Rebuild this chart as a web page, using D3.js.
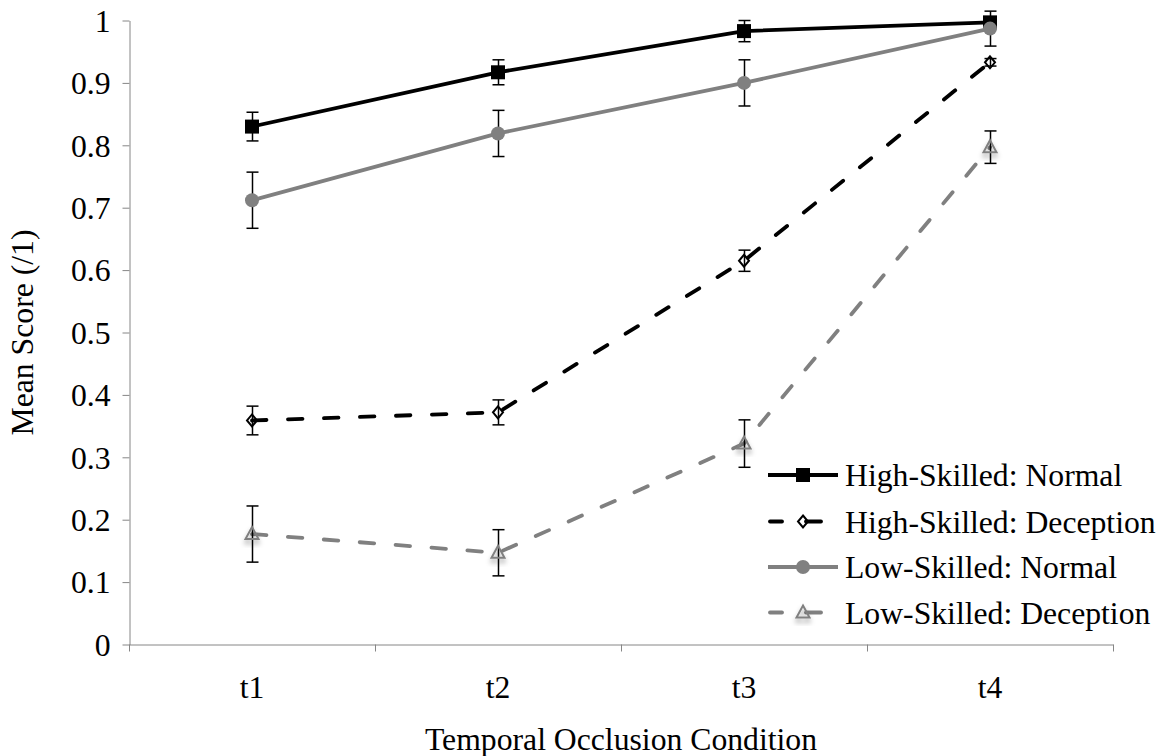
<!DOCTYPE html>
<html>
<head>
<meta charset="utf-8">
<script src="https://cdn.jsdelivr.net/npm/d3@7"></script>
<style>
  html, body { margin: 0; padding: 0; background: #fff; }
  svg { display: block; }
  text { font-family: "Liberation Serif", "Times New Roman", serif; fill: #000; }
</style>
</head>
<body>
<svg id="chart" width="1172" height="756"></svg>
<script>
// Categories (temporal occlusion conditions)
const categories = ["t1", "t2", "t3", "t4"];

// Mean scores and error bar half-widths per group
const hsNormal = [0.830, 0.917, 0.983, 0.997];
const hsNormalErr = [0.023, 0.020, 0.017, 0.003];
const hsDeception = [0.359, 0.372, 0.615, 0.933];
const hsDeceptionErr = [0.023, 0.020, 0.017, 0.006];
const lsNormal = [0.712, 0.819, 0.900, 0.987];
const lsNormalErr = [0.045, 0.037, 0.037, 0.028];
const lsDeception = [0.177, 0.147, 0.322, 0.797];
const lsDeceptionErr = [0.045, 0.037, 0.038, 0.026];

const seriesNames = ["High-Skilled: Normal", "High-Skilled: Deception", "Low-Skilled: Normal", "Low-Skilled: Deception"];
const yTickValues = [0, 0.1, 0.2, 0.3, 0.4, 0.5, 0.6, 0.7, 0.8, 0.9, 1];
const yTickLabels = ["0", "0.1", "0.2", "0.3", "0.4", "0.5", "0.6", "0.7", "0.8", "0.9", "1"];

const BLACK = "#000000";
const GREY = "#808080";
const AXIS = "#868686";
const DASH = "14.5,21.5";

const series = [
  { name: seriesNames[0], values: hsNormal, errs: hsNormalErr, color: BLACK, dash: null, marker: "square" },
  { name: seriesNames[1], values: hsDeception, errs: hsDeceptionErr, color: BLACK, dash: DASH, marker: "diamond" },
  { name: seriesNames[2], values: lsNormal, errs: lsNormalErr, color: GREY, dash: null, marker: "circle" },
  { name: seriesNames[3], values: lsDeception, errs: lsDeceptionErr, color: GREY, dash: DASH, marker: "triangle" }
];

const plot = { left: 129, right: 1113, top: 20.5, bottom: 644.5 };
const FONT = 31.7;
const SERIF = "'Liberation Serif', 'Times New Roman', serif";

const svg = d3.select("#chart");

const defs = svg.append("defs");
const shadow = defs.append("filter").attr("id", "markerShadow")
  .attr("x", "-50%").attr("y", "-50%").attr("width", "200%").attr("height", "220%");
shadow.append("feDropShadow").attr("dx", 0).attr("dy", 4).attr("stdDeviation", 2.5)
  .attr("flood-color", "#000").attr("flood-opacity", 0.35);

const x = d3.scaleBand().domain(categories).range([plot.left, plot.right]).padding(0);
const xEdges = d3.scaleLinear().domain([0, categories.length]).range([plot.left, plot.right]);
const y = d3.scaleLinear().domain([0, 1]).range([plot.bottom, plot.top]);
const cx = c => x(c) + x.bandwidth() / 2;

// Y axis
const yAxis = svg.append("g")
  .attr("transform", `translate(${plot.left + 0.5},0)`)
  .call(d3.axisLeft(y).tickValues(yTickValues).tickSize(7).tickSizeOuter(0)
    .tickFormat((d, i) => yTickLabels[i]));
yAxis.attr("font-family", SERIF).attr("font-size", FONT);
yAxis.select(".domain").attr("stroke", AXIS).attr("stroke-width", 1);
yAxis.selectAll(".tick line").attr("stroke", AXIS);
yAxis.selectAll(".tick text")
  .attr("x", -19)
  .attr("dy", "0.34em")
  .style("font-size", FONT + "px")
  .style("font-family", SERIF)
  .attr("fill", "#000");

// X axis: ticks at category boundaries, labels at category centres
const xAxis = svg.append("g")
  .attr("transform", `translate(0,${plot.bottom})`)
  .call(d3.axisBottom(xEdges).tickValues(d3.range(categories.length + 1)).tickSize(7)
    .tickSizeOuter(0).tickFormat(""));
xAxis.select(".domain").attr("stroke", AXIS).attr("stroke-width", 1);
xAxis.selectAll(".tick line").attr("stroke", AXIS);
xAxis.selectAll(".tick").attr("transform", d => `translate(${Math.round(xEdges(d)) + 0.5},0)`);

svg.append("g").selectAll("text").data(categories).join("text")
  .attr("x", d => cx(d))
  .attr("y", 698)
  .attr("text-anchor", "middle")
  .style("font-size", FONT + "px")
  .style("font-family", SERIF)
  .text(d => d);

// Axis titles
svg.append("text")
  .attr("x", (plot.left + plot.right) / 2)
  .attr("y", 750)
  .attr("text-anchor", "middle")
  .style("font-size", FONT + "px")
  .style("font-family", SERIF)
  .text("Temporal Occlusion Condition");

svg.append("text")
  .attr("transform", `translate(33,${(plot.top + plot.bottom) / 2}) rotate(-90)`)
  .attr("text-anchor", "middle")
  .style("font-size", FONT + "px")
  .style("font-family", SERIF)
  .text("Mean Score (/1)");

// Marker shapes
function drawMarker(g, type, px, py, color) {
  if (type === "square") {
    g.append("rect").attr("x", px - 7).attr("y", py - 7).attr("width", 14).attr("height", 14)
      .attr("fill", color);
  } else if (type === "circle") {
    g.append("circle").attr("cx", px).attr("cy", py).attr("r", 7).attr("fill", color);
  } else if (type === "diamond") {
    g.append("path")
      .attr("d", `M${px},${py - 6} L${px + 5},${py} L${px},${py + 6} L${px - 5},${py} Z`)
      .attr("fill", "none").attr("stroke", color).attr("stroke-width", 2);
  } else if (type === "triangle") {
    g.append("path")
      .attr("d", `M${px},${py - 7} L${px + 6.5},${py + 5} L${px - 6.5},${py + 5} Z`)
      .attr("fill", "none").attr("stroke", color).attr("stroke-width", 2)
      .attr("filter", "url(#markerShadow)");
  }
}

const line = d3.line().x(d => cx(d.c)).y(d => y(d.v));

series.forEach(s => {
  const g = svg.append("g");
  const pts = categories.map((c, i) => ({ c, v: s.values[i], e: s.errs[i] }));

  g.append("path").datum(pts)
    .attr("d", line)
    .attr("fill", "none")
    .attr("stroke", s.color)
    .attr("stroke-width", 3.8)
    .attr("stroke-linecap", s.dash ? "round" : "butt")
    .attr("stroke-linejoin", "round")
    .attr("stroke-dasharray", s.dash);

  // error bars
  const eb = g.append("g").attr("stroke", BLACK).attr("stroke-width", 1.5);
  pts.forEach(p => {
    const px = Math.round(cx(p.c)) + 0.5;
    const y0 = y(p.v - p.e), y1 = y(p.v + p.e);
    eb.append("line").attr("x1", px).attr("x2", px).attr("y1", y0).attr("y2", y1);
    eb.append("line").attr("x1", px - 6).attr("x2", px + 6).attr("y1", y0).attr("y2", y0);
    eb.append("line").attr("x1", px - 6).attr("x2", px + 6).attr("y1", y1).attr("y2", y1);
  });

  pts.forEach(p => drawMarker(g, s.marker, cx(p.c), y(p.v), s.color));
});

// Legend: solid keys are one stroke, dashed keys are a dash either side of the marker
const legendRows = [475, 521.5, 567, 612.5];
const legend = svg.append("g");
series.forEach((s, i) => {
  const ly = legendRows[i];
  const lg = legend.append("g");
  const segs = s.dash ? [[770, 782], [806, 821]] : [[768, 838]];
  segs.forEach(([a, b]) => {
    lg.append("line")
      .attr("x1", a).attr("x2", b).attr("y1", ly).attr("y2", ly)
      .attr("stroke", s.color).attr("stroke-width", 3.8)
      .attr("stroke-linecap", s.dash ? "round" : "butt");
  });
  drawMarker(lg, s.marker, 803, ly, s.color);
  lg.append("text")
    .attr("x", 845).attr("y", ly + 11)
    .style("font-size", FONT + "px")
    .style("font-family", SERIF)
    .text(s.name);
});
</script>
</body>
</html>
